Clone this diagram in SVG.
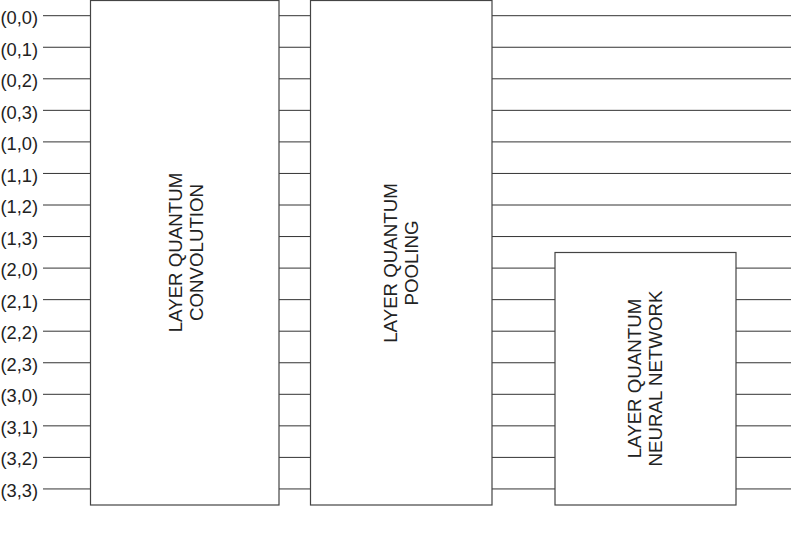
<svg xmlns="http://www.w3.org/2000/svg" width="794" height="537" viewBox="0 0 794 537">
<style>
.w{stroke:#333;stroke-width:1;fill:none}
.box{fill:#fff;stroke:#444;stroke-width:1.2}
.lbl{font-family:"Liberation Sans",Arial,sans-serif;font-size:18.3px;fill:#222}
.t{font-family:"Liberation Sans",Arial,sans-serif;font-size:18.7px;fill:#222;text-anchor:middle}
</style>
<rect width="794" height="537" fill="#fff"/>
<g id="labels">
<text class="lbl" x="0.5" y="24">(0,0)</text>
<text class="lbl" x="0.5" y="55.5">(0,1)</text>
<text class="lbl" x="0.5" y="87">(0,2)</text>
<text class="lbl" x="0.5" y="118.5">(0,3)</text>
<text class="lbl" x="0.5" y="150">(1,0)</text>
<text class="lbl" x="0.5" y="181.5">(1,1)</text>
<text class="lbl" x="0.5" y="213">(1,2)</text>
<text class="lbl" x="0.5" y="244.5">(1,3)</text>
<text class="lbl" x="0.5" y="276">(2,0)</text>
<text class="lbl" x="0.5" y="307.5">(2,1)</text>
<text class="lbl" x="0.5" y="339">(2,2)</text>
<text class="lbl" x="0.5" y="370.5">(2,3)</text>
<text class="lbl" x="0.5" y="402">(3,0)</text>
<text class="lbl" x="0.5" y="433.5">(3,1)</text>
<text class="lbl" x="0.5" y="465">(3,2)</text>
<text class="lbl" x="0.5" y="496.5">(3,3)</text>
</g>
<g id="connectors">
<path class="w" d="M43 15.7H90M43 47.25H90M43 78.8H90M43 110.35H90M43 141.9H90M43 173.45H90M43 205H90M43 236.55H90M43 268.1H90M43 299.65H90M43 331.2H90M43 362.75H90M43 394.3H90M43 425.85H90M43 457.4H90M43 488.95H90"/>
<path class="w" d="M279 15.7H310M279 47.25H310M279 78.8H310M279 110.35H310M279 141.9H310M279 173.45H310M279 205H310M279 236.55H310M279 268.1H310M279 299.65H310M279 331.2H310M279 362.75H310M279 394.3H310M279 425.85H310M279 457.4H310M279 488.95H310"/>
<path class="w" d="M492 15.7H791M492 47.25H791M492 78.8H791M492 110.35H791M492 141.9H791M492 173.45H791M492 205H791M492 236.55H791"/>
<path class="w" d="M492 268.1H555M492 299.65H555M492 331.2H555M492 362.75H555M492 394.3H555M492 425.85H555M492 457.4H555M492 488.95H555"/>
<path class="w" d="M736 268.1H791M736 299.65H791M736 331.2H791M736 362.75H791M736 394.3H791M736 425.85H791M736 457.4H791M736 488.95H791"/>
</g>
<g id="conv">
<rect class="box" x="90.5" y="0.5" width="188.5" height="504.5"/>
<g transform="translate(186 252.5) rotate(-90)">
<text class="t" x="0" y="-3.7">LAYER QUANTUM</text>
<text class="t" x="0" y="17.3">CONVOLUTION</text>
</g>
</g>
<g id="pool">
<rect class="box" x="310.5" y="0.5" width="181.5" height="504.5"/>
<g transform="translate(401 263) rotate(-90)">
<text class="t" x="0" y="-3.7">LAYER QUANTUM</text>
<text class="t" x="0" y="17.3">POOLING</text>
</g>
</g>
<g id="qnn">
<rect class="box" x="555" y="252.5" width="181" height="252.5"/>
<g transform="translate(645 378.5) rotate(-90)">
<text class="t" x="0" y="-3.7">LAYER QUANTUM</text>
<text class="t" x="0" y="17.3">NEURAL NETWORK</text>
</g>
</g>
</svg>
